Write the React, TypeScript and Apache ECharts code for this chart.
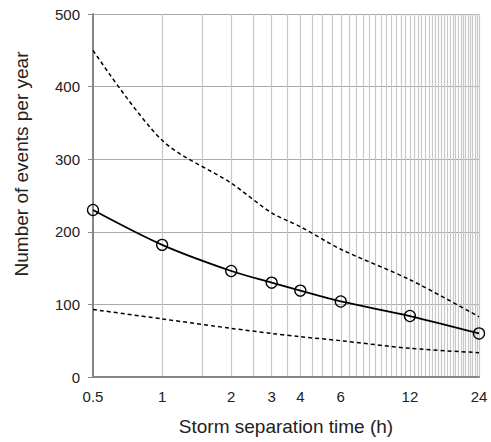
import React, { useEffect, useRef } from "react";
import * as echarts from "echarts";

const hours = [0.5, 1, 2, 3, 4, 6, 12, 24];
const meanEvents = [230, 182, 146, 130, 119, 104, 84, 60];
const upperEvents = [450, 326, 267, 226, 207, 176, 134, 83];
const lowerEvents = [93, 80, 67, 60, 55.5, 50, 39.5, 33.5];
const xLabelValues = [0.5, 1, 2, 3, 4, 6, 12, 24];
const xGridValues = [
  1, 1.5, 2, 2.5, 3, 3.5, 4, 4.5, 5, 5.5, 6, 6.5, 7, 7.5, 8, 8.5, 9, 9.5, 10,
  10.5, 11, 11.5, 12, 12.5, 13, 13.5, 14, 14.5, 15, 15.5, 16, 16.5, 17, 17.5,
  18, 18.5, 19, 19.5, 20, 20.5, 21, 21.5, 22, 22.5, 23, 23.5, 24,
];
const yTicks = { min: 0, max: 500, interval: 100 };
const xTitle = "Storm separation time (h)";
const yTitle = "Number of events per year";

export default function App() {
  const ref = useRef<HTMLDivElement>(null);
  useEffect(() => {
    if (!ref.current) return;
    const chart = echarts.init(ref.current, undefined, { renderer: "svg" });
    const font = "'Liberation Sans', Arial, sans-serif";
    const pair = (vals: number[]) => hours.map((h, i) => [h, vals[i]]);
    chart.setOption({
      animation: false,
      backgroundColor: "#ffffff",
      grid: { left: 93, right: 12, top: 14, bottom: 65, containLabel: false },
      graphic: [
        {
          type: "text",
          x: 21,
          y: 164,
          rotation: Math.PI / 2,
          style: {
            text: yTitle,
            fontFamily: font,
            fontSize: 19,
            fill: "#222",
            align: "center",
            verticalAlign: "middle",
          },
        },
      ],
      xAxis: {
        type: "log",
        min: 0.5,
        max: 24,
        name: xTitle,
        nameLocation: "middle",
        nameGap: 40,
        nameTextStyle: { fontFamily: font, fontSize: 19, color: "#222" },
        axisLine: { show: true, onZero: false, lineStyle: { color: "#868686", width: 2 } },
        axisTick: { show: false, customValues: xGridValues },
        axisLabel: {
          customValues: xLabelValues,
          fontFamily: font,
          fontSize: 15,
          color: "#222",
          margin: 12,
          formatter: (v: number) => String(v),
        },
        splitLine: { show: true, lineStyle: { color: "#c8c8c8", width: 1.2 } },
        minorSplitLine: { show: false },
      },
      yAxis: {
        type: "value",
        min: yTicks.min,
        max: yTicks.max,
        interval: yTicks.interval,
        axisLine: { show: true, lineStyle: { color: "#868686", width: 2 } },
        axisTick: { show: true, length: 5, lineStyle: { color: "#868686" } },
        axisLabel: { fontFamily: font, fontSize: 15, color: "#222", margin: 13 },
        splitLine: { show: true, lineStyle: { color: "#a9a9a9", width: 1.2 } },
      },
      series: [
        {
          type: "line",
          data: pair(upperEvents),
          smooth: 0.3,
          showSymbol: false,
          symbol: "none",
          lineStyle: { color: "#000", width: 1.5, type: [4, 3] },
          z: 3,
        },
        {
          type: "line",
          data: pair(lowerEvents),
          smooth: 0.3,
          showSymbol: false,
          symbol: "none",
          lineStyle: { color: "#000", width: 1.5, type: [4, 3] },
          z: 3,
        },
        {
          type: "line",
          data: pair(meanEvents),
          smooth: 0.3,
          symbol: "circle",
          symbolSize: 11,
          itemStyle: { color: "rgba(255,255,255,0)", borderColor: "#000", borderWidth: 1.3 },
          lineStyle: { color: "#000", width: 1.8 },
          z: 4,
        },
      ],
    });
    return () => chart.dispose();
  }, []);
  return <div ref={ref} style={{ width: 491, height: 442, position: "absolute", left: 0, top: 0 }} />;
}
